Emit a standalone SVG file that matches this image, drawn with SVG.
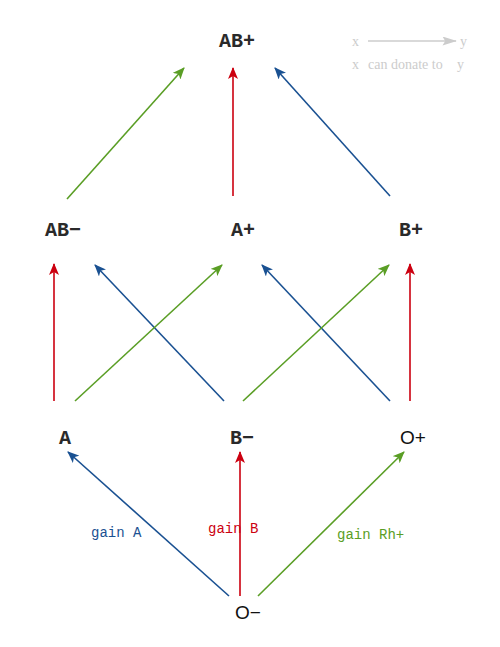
<svg xmlns="http://www.w3.org/2000/svg" width="500" height="647" viewBox="0 0 500 647">
<style>
.n{font-family:"Liberation Mono","Courier New",monospace;font-size:20px;font-weight:bold;fill:#2a2a2a;text-anchor:middle}
.s{font-family:"Liberation Sans",Arial,sans-serif;font-size:19px;fill:#111;text-anchor:middle}
.e{fill:none;stroke-width:1.6}
.b{stroke:#1a5192}.r{stroke:#cc0010}.g{stroke:#5a9e25}
.lb{font-family:"Liberation Mono","Courier New",monospace;font-size:14px}
.lg{font-family:"Liberation Serif","Times New Roman",serif;font-size:14px;fill:#ccc}
</style>
<defs>
<marker id="mb" viewBox="0 0 12 10" refX="11" refY="5" markerWidth="12" markerHeight="10" markerUnits="userSpaceOnUse" orient="auto"><path d="M0,0 L12,5 L0,10 L3,5 Z" fill="#1a5192"/></marker>
<marker id="mr" viewBox="0 0 12 10" refX="11" refY="5" markerWidth="12" markerHeight="10" markerUnits="userSpaceOnUse" orient="auto"><path d="M0,0 L12,5 L0,10 L3,5 Z" fill="#cc0010"/></marker>
<marker id="mg" viewBox="0 0 12 10" refX="11" refY="5" markerWidth="12" markerHeight="10" markerUnits="userSpaceOnUse" orient="auto"><path d="M0,0 L12,5 L0,10 L3,5 Z" fill="#5a9e25"/></marker>
<marker id="ml" viewBox="0 0 16 10" refX="15" refY="5" markerWidth="16" markerHeight="9" markerUnits="userSpaceOnUse" orient="auto"><path d="M0,0 L16,5 L0,10 L3,5 Z" fill="#ccc"/></marker>
</defs>
<g id="legend">
<text class="lg" x="352" y="46">x</text>
<line x1="368" y1="41" x2="456" y2="41" stroke="#ccc" stroke-width="1.6" marker-end="url(#ml)"/>
<text class="lg" x="460" y="46">y</text>
<text class="lg" y="69"><tspan x="352">x</tspan><tspan x="368">can donate to</tspan><tspan x="457">y</tspan></text>
</g>
<g id="connectors">
<line class="e g" x1="67" y1="199" x2="184" y2="68" marker-end="url(#mg)"/>
<line class="e r" x1="233" y1="196" x2="233" y2="68" marker-end="url(#mr)"/>
<line class="e b" x1="390" y1="196" x2="275" y2="68" marker-end="url(#mb)"/>
<line class="e r" x1="54" y1="401" x2="54" y2="264" marker-end="url(#mr)"/>
<line class="e b" x1="224" y1="401" x2="95" y2="265" marker-end="url(#mb)"/>
<line class="e g" x1="75" y1="401" x2="222" y2="265" marker-end="url(#mg)"/>
<line class="e b" x1="390" y1="401" x2="262" y2="265" marker-end="url(#mb)"/>
<line class="e g" x1="243" y1="401" x2="389" y2="265" marker-end="url(#mg)"/>
<line class="e r" x1="410" y1="401" x2="410" y2="264" marker-end="url(#mr)"/>
<line class="e b" x1="229" y1="596" x2="68" y2="452" marker-end="url(#mb)"/>
<line class="e r" x1="240" y1="596" x2="240" y2="452" marker-end="url(#mr)"/>
<line class="e g" x1="258" y1="596" x2="404" y2="452" marker-end="url(#mg)"/>
<text class="lb" x="91" y="537" fill="#1a5192">gain A</text>
<text class="lb" x="208" y="533" fill="#cc0010">gain B</text>
<text class="lb" x="337" y="539" fill="#5a9e25">gain Rh+</text>
</g>
<g id="ABp"><text class="n" x="237" y="47">AB+</text></g>
<g id="ABn"><text class="n" x="63" y="236">AB−</text></g>
<g id="Ap"><text class="n" x="243" y="236">A+</text></g>
<g id="Bp"><text class="n" x="411" y="236">B+</text></g>
<g id="A"><text class="n" x="65" y="444">A</text></g>
<g id="Bn"><text class="n" x="242" y="444">B−</text></g>
<g id="Op"><text class="s" x="413" y="444">O+</text></g>
<g id="On"><text class="s" x="248" y="619">O−</text></g>
</svg>
